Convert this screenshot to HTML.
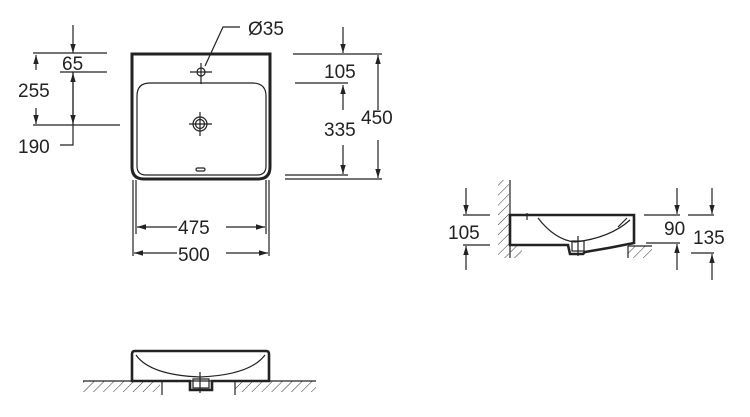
<!DOCTYPE html>
<html><head><style>html,body{margin:0;padding:0;background:#fff}svg{display:block}text{font-family:"Liberation Sans",sans-serif;font-size:19px;fill:#222}</style></head>
<body>
<svg width="750" height="417" viewBox="0 0 750 417" xmlns="http://www.w3.org/2000/svg">
<defs>
<marker id="a" viewBox="0 0 10 10" refX="10" refY="5" markerWidth="9" markerHeight="9" markerUnits="userSpaceOnUse" orient="auto"><path d="M0,2 L10,5 L0,8 Z" fill="#222"/></marker>
<pattern id="h" width="7" height="7" patternUnits="userSpaceOnUse" patternTransform="rotate(45)"><line x1="0" y1="0" x2="0" y2="7" stroke="#333" stroke-width="1"/></pattern>
</defs>
<g stroke="#222" fill="none" stroke-width="1.2">
<path d="M132,54 H270 V167 Q270,179 258,179 H144 Q132,179 132,167 Z" stroke-width="3"/>
<path d="M137,96 Q137,83 150,83 H252 Q266,83 266,96 V166 Q266,175 257,175 H146 Q137,175 137,166 Z"/>
<circle cx="201" cy="72" r="4"/><path d="M190,72 H212 M201,63 V84"/>
<circle cx="200" cy="124" r="7"/><circle cx="200" cy="124" r="4.5"/><path d="M189,124 H212 M200,112 V136"/>
<rect x="196" y="168" width="9" height="3" rx="1.5"/>
<path d="M240,27 H223 L205,66"/>
<path d="M33,53 H107 M60,72 H107 M33,125 H120 M60,145 H73 V72"/>
<path d="M73,25 V53" marker-end="url(#a)"/>
<path d="M73,100 V73" marker-end="url(#a)"/>
<path d="M73,100 V124" marker-end="url(#a)"/>
<path d="M36,70 V55" marker-end="url(#a)"/>
<path d="M36,108 V124" marker-end="url(#a)"/>
<path d="M293,54 H382 M295,83 H348 M285,175 H348 M285,179 H382"/>
<path d="M343,27 V53" marker-end="url(#a)"/>
<path d="M343,110 V85" marker-end="url(#a)"/>
<path d="M343,145 V174" marker-end="url(#a)"/>
<path d="M378,110 V55" marker-end="url(#a)"/>
<path d="M378,140 V178" marker-end="url(#a)"/>
<path d="M133,180 V256 M136,180 V234 M266,180 V234 M269,180 V256"/>
<path d="M177,227 H137" marker-end="url(#a)"/>
<path d="M226,227 H265" marker-end="url(#a)"/>
<path d="M177,253 H134" marker-end="url(#a)"/>
<path d="M226,253 H268" marker-end="url(#a)"/>
<rect x="498" y="180" width="11" height="78" fill="url(#h)" stroke="none"/>
<path d="M510,180 V258"/>
<rect x="510" y="246" width="12" height="12" fill="url(#h)" stroke="none"/>
<rect x="628" y="246" width="24" height="12" fill="url(#h)" stroke="none"/>
<path d="M628,246 V258 M628,246 H652"/>
<path d="M510,215 H634 V243 Q610,248 585,252 L583,254 H570 L568,245 H510 Z" stroke-width="2.6"/>
<path d="M538,218 Q555,240 575,242 Q610,238 630,220"/>
<path d="M527,213 V220 M618,227 L627,218"/>
<rect x="572" y="241" width="12" height="10"/>
<path d="M578,236 V256"/>
<path d="M463,215 H490 M463,245 H490"/>
<path d="M466,188 V214" marker-end="url(#a)"/>
<path d="M466,270 V246" marker-end="url(#a)"/>
<path d="M644,215 H680 M646,243 H680"/>
<path d="M677,188 V214" marker-end="url(#a)"/>
<path d="M677,270 V244" marker-end="url(#a)"/>
<path d="M688,215 H714 M691,253 H714"/>
<path d="M712,188 V214" marker-end="url(#a)"/>
<path d="M712,280 V254" marker-end="url(#a)"/>
<rect x="83" y="381" width="233" height="11" fill="url(#h)" stroke="none"/>
<rect x="160" y="380" width="75" height="14" fill="#fff" stroke="none"/>
<path d="M83,381 H316 M162,381 V395 M235,381 V395"/>
<path d="M132,354 Q132,351 135,351 H266 Q269,351 269,354 V381 H212 V390 H190 V381 H132 Z" stroke-width="2.6"/>
<path d="M136,355 Q150,375 200,377 Q250,375 265,355"/>
<path d="M193,379 H209 V388 H193 Z M200,372 V393"/>
</g>
<text x="248" y="35">Ø35</text>
<text x="62" y="70">65</text>
<text x="18" y="97">255</text>
<text x="18" y="153">190</text>
<text x="324" y="78">105</text>
<text x="324" y="136">335</text>
<text x="361" y="124">450</text>
<text x="178" y="234">475</text>
<text x="178" y="261">500</text>
<text x="448" y="239">105</text>
<text x="664" y="235">90</text>
<text x="693" y="244">135</text>
</svg>
</body></html>
